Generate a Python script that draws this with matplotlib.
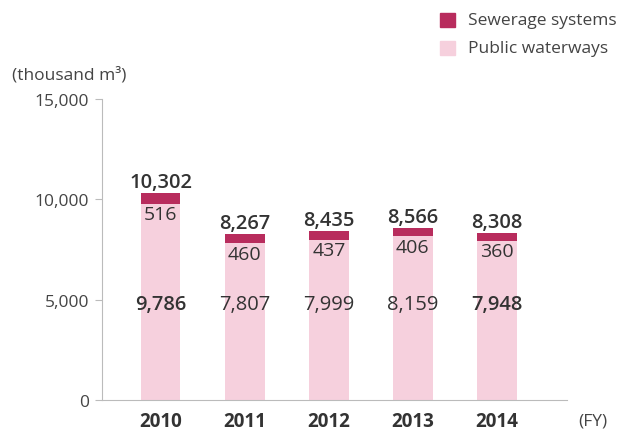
import matplotlib.pyplot as plt
import numpy as np

# ================= Data ===============
years = ["2010", "2011", "2012", "2013", "2014"]
public_waterways = [9786, 7807, 7999, 8159, 7948]
sewerage = [516, 460, 437, 406, 360]
totals = [10302, 8267, 8435, 8566, 8308]

pink = "#f6d0dd"
crimson = "#b82c5d"
dark = "#333333"

plt.rcParams['font.family'] = ['Open Sans', 'DejaVu Sans']

fig = plt.figure(figsize=(6.29, 4.35), dpi=100)
ax = fig.add_axes([0.162, 0.078, 0.739, 0.692])

x = np.arange(len(years))
w = 0.47
ax.bar(x, public_waterways, width=w, color=pink, linewidth=0)
ax.bar(x, sewerage, width=w, bottom=public_waterways, color=crimson, linewidth=0)

# ================= Labels ===============
for i in range(len(years)):
    ax.text(x[i], totals[i] + 60, f"{totals[i]:,}", ha="center", va="bottom",
            fontsize=14.5, fontweight="semibold", color=dark)
    ax.text(x[i], public_waterways[i] - 60, f"{sewerage[i]:,}", ha="center", va="top",
            fontsize=14, color=dark)
    ax.text(x[i], 4800, f"{public_waterways[i]:,}", ha="center", va="center",
            fontsize=14.5, fontweight="semibold" if i in (0, 4) else "normal", color=dark)

ax.set_xlim(-0.70, 4.83)
ax.set_ylim(0, 15000)
ax.set_xticks(x)
ax.set_xticklabels(years, fontsize=13.5, fontweight="bold", color=dark)
ax.set_yticks([0, 5000, 10000, 15000])
ax.set_yticklabels(["0", "5,000", "10,000", "15,000"], fontsize=12.5, color="#444444")
ax.tick_params(axis="x", length=0, pad=8)
ax.tick_params(axis="y", length=5, color="#bbbbbb", pad=4)

for s in ["top", "right"]:
    ax.spines[s].set_visible(False)
ax.spines["left"].set_color("#bbbbbb")
ax.spines["bottom"].set_color("#bbbbbb")

fig.text(12 / 629, 1 - 75 / 435, "(thousand m³)", fontsize=12.5, color="#444444", va="center")
fig.text(578 / 629, 1 - 422 / 435, "(FY)", fontsize=12.5, color="#444444", va="center")

# ================= Legend ===============
fig.patches.append(plt.Rectangle((440 / 629, 1 - 28 / 435), 15 / 629, 14 / 435,
                                 transform=fig.transFigure, color=crimson))
fig.patches.append(plt.Rectangle((440 / 629, 1 - 56 / 435), 15 / 629, 14 / 435,
                                 transform=fig.transFigure, color=pink))
fig.text(468 / 629, 1 - 21 / 435, "Sewerage systems", fontsize=12.5, color="#444444", va="center")
fig.text(468 / 629, 1 - 49 / 435, "Public waterways", fontsize=12.5, color="#444444", va="center")

fig.savefig("out.png", dpi=100)
